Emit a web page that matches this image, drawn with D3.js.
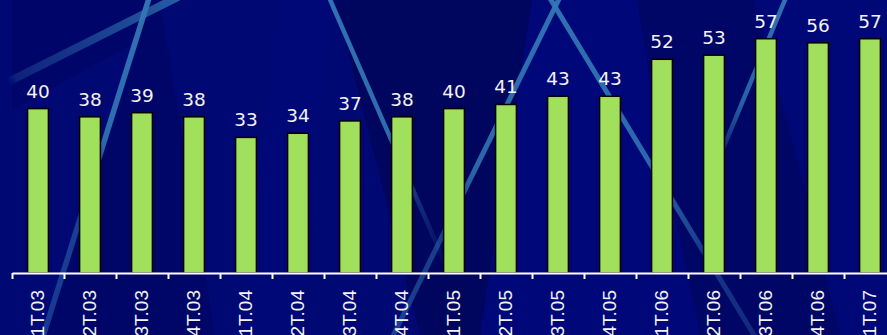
<!DOCTYPE html>
<html>
<head>
<meta charset="utf-8">
<script src="https://cdn.jsdelivr.net/npm/d3@7"></script>
<style>
  html, body { margin: 0; padding: 0; background: #000874; }
  svg { display: block; }
</style>
</head>
<body>
<div id="chart"></div>
<script>
// Quarterly values
const quarters = ["1T.03","2T.03","3T.03","4T.03","1T.04","2T.04","3T.04","4T.04",
                  "1T.05","2T.05","3T.05","4T.05","1T.06","2T.06","3T.06","4T.06","1T.07"];
const values = [40, 38, 39, 38, 33, 34, 37, 38, 40, 41, 43, 43, 52, 53, 57, 56, 57];
const yDomain = [0, 60];

const W = 887, H = 335;
const axisY = 273;

const svg = d3.select("#chart").append("svg")
  .attr("width", W).attr("height", H);

const defs = svg.append("defs");

// Backdrop
svg.append("rect").attr("width", W).attr("height", H).attr("fill", "#000873");

// Darker and lighter facets in the backdrop
const facets = [
  { pts: [[12,0],[150,0],[140,40],[12,110]], c: "#00044e", o: 0.28 },
  { pts: [[140,40],[150,0],[160,0],[215,335],[45,335]], c: "#00034c", o: 0.3 },
  { pts: [[280,0],[330,0],[300,335],[240,335]], c: "#000c98", o: 0.15 },
  { pts: [[335,0],[532,0],[480,335],[420,335]], c: "#00023c", o: 0.4 },
  { pts: [[532,0],[637,0],[665,170],[700,335],[480,335]], c: "#000c96", o: 0.18 },
  { pts: [[637,0],[754,0],[800,170],[840,335],[700,335],[665,170]], c: "#00034a", o: 0.3 },
  { pts: [[754,0],[887,0],[887,335],[840,335],[800,170]], c: "#000a88", o: 0.18 }
];
svg.append("g").selectAll("polygon").data(facets).join("polygon")
  .attr("points", d => d.pts.map(p => p.join(",")).join(" "))
  .attr("fill", d => d.c).attr("opacity", d => d.o);

// Light streaks, each with its own fade along its length
const streaks = [
  { id: "s1", a: [150, -5], b: [42, 340], w: 5.5, stops: [[0, 0.95], [0.4, 0.9], [0.6, 0.5], [1, 0.45]] },
  { id: "s2", a: [8, 82], b: [178, -3], w: 8, stops: [[0, 0.0], [0.05, 0.25], [1, 0.75]] },
  { id: "s3", a: [328, -5], b: [448, 270], w: 4.5, stops: [[0, 0.95], [0.5, 0.9], [0.75, 0.35], [1, 0]] },
  { id: "s4", a: [561, -5], b: [391, 340], w: 5, stops: [[0, 0.95], [0.5, 0.85], [0.7, 0.5], [1, 0.5]] },
  { id: "s5", a: [548, -5], b: [757, 340], w: 5, stops: [[0, 0.95], [0.5, 0.85], [0.75, 0.45], [1, 0.3]] },
  { id: "s6", a: [787, -5], b: [712, 175], w: 4.5, stops: [[0, 0.95], [0.6, 0.8], [1, 0]] }
];
streaks.forEach(s => {
  const g = defs.append("linearGradient").attr("id", s.id)
    .attr("gradientUnits", "userSpaceOnUse")
    .attr("x1", s.a[0]).attr("y1", s.a[1]).attr("x2", s.b[0]).attr("y2", s.b[1]);
  s.stops.forEach(([off, op]) =>
    g.append("stop").attr("offset", off).attr("stop-color", "#3377b6").attr("stop-opacity", op));
});
svg.append("g").selectAll("line").data(streaks).join("line")
  .attr("x1", d => d.a[0]).attr("y1", d => d.a[1])
  .attr("x2", d => d.b[0]).attr("y2", d => d.b[1])
  .attr("stroke", d => `url(#${d.id})`)
  .attr("stroke-width", d => d.w);

// Scales
const x = d3.scaleBand().domain(quarters).range([12, 12 + 52 * quarters.length])
  .paddingInner(0.6).paddingOuter(0.3);
const y = d3.scaleLinear().domain(yDomain).range([axisY, 26.4]);

// Bars
svg.append("g").selectAll("rect").data(values).join("rect")
  .attr("x", (d, i) => x(quarters[i]))
  .attr("y", d => y(d))
  .attr("width", x.bandwidth())
  .attr("height", d => axisY - y(d))
  .attr("fill", "#a0e05c")
  .attr("stroke", "#000")
  .attr("stroke-width", 1.5);

// Value labels
svg.append("g").selectAll("text").data(values).join("text")
  .attr("x", (d, i) => x(quarters[i]) + x.bandwidth() / 2)
  .attr("y", d => y(d) - 11)
  .attr("text-anchor", "middle")
  .attr("font-family", "DejaVu Sans, Verdana, sans-serif")
  .attr("font-size", 18.5)
  .attr("fill", "#f2f2f2")
  .text(d => d);

// Axis line with ticks between categories
const edges = d3.scaleLinear().domain([0, quarters.length]).range([12, 12 + 52 * quarters.length]);
const axisG = svg.append("g").attr("transform", `translate(0,${axisY})`)
  .call(d3.axisBottom(edges).tickValues(d3.range(quarters.length)).tickFormat("")
    .tickSize(6).tickSizeOuter(0));
axisG.select(".domain").attr("stroke", "#fff").attr("stroke-width", 2);
axisG.selectAll(".tick line").attr("stroke", "#fff").attr("stroke-width", 2);

// Category labels, rotated
svg.append("g").selectAll("text").data(quarters).join("text")
  .attr("transform", d => `translate(${x(d) + x.bandwidth() / 2 - 1},290) rotate(-90)`)
  .attr("text-anchor", "end")
  .attr("dy", "0.36em")
  .attr("font-family", "Liberation Sans, Arial, sans-serif")
  .attr("font-size", 19)
  .attr("fill", "#f2f2f2")
  .text(d => d);
</script>
</body>
</html>
